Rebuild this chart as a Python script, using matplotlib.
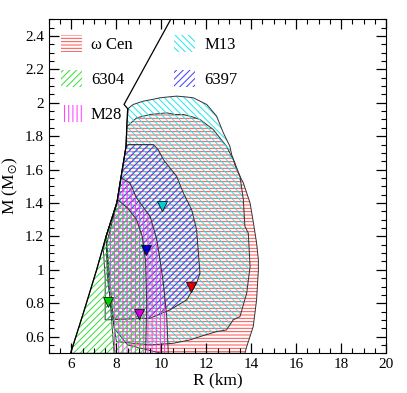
import numpy as np
import matplotlib
matplotlib.use("Agg")
import matplotlib.pyplot as plt
from matplotlib.patches import Polygon
from matplotlib.ticker import MultipleLocator, FormatStrFormatter

plt.rcParams['font.family'] = ['Liberation Serif', 'DejaVu Serif']
plt.rcParams['mathtext.fontset'] = 'stix'
plt.rcParams['hatch.linewidth'] = 0.7

# left envelope / causality line (R in km, M in Msun)
env_r = [10.42, 8.34, 8.50, 8.47, 8.43, 8.20, 8.02, 7.54, 7.12, 6.55, 5.96]
env_m = [2.50, 1.99, 1.965, 1.88, 1.74, 1.55, 1.40, 1.20, 1.00, 0.75, 0.50]

# omega Cen
wcen_r = [8.46, 8.9, 9.2, 9.5, 9.9, 10.24, 10.6, 10.98, 11.4, 11.72, 12.31, 12.9, 13.2,
          13.35, 13.65, 13.95, 14.1, 14.24, 14.32, 14.32, 14.24, 14.09, 13.8, 13.72,
          10.0, 8.5, 7.9, 7.54, 8.02, 8.20, 8.43]
wcen_m = [1.857, 1.91, 1.92, 1.93, 1.935, 1.94, 1.93, 1.93, 1.915, 1.90, 1.84, 1.74, 1.66,
          1.60, 1.52, 1.40, 1.28, 1.16, 1.06, 1.00, 0.82, 0.66, 0.54, 0.50,
          0.50, 0.55, 0.65, 1.20, 1.40, 1.55, 1.74]

# M13
m13_r = [8.53, 8.75, 9.2, 9.6, 9.94, 10.3, 10.68, 11.1, 11.42, 12.02, 12.46, 12.76, 13.05,
         13.13, 13.5, 13.65, 13.72, 13.87, 13.95, 13.8, 13.5, 13.2, 12.9, 12.46, 11.72,
         11.27, 10.53, 9.5, 8.0, 7.85, 7.6, 7.54, 8.02, 8.20, 8.43, 8.47]
m13_m = [1.967, 1.99, 2.01, 2.02, 2.03, 2.035, 2.04, 2.035, 2.03, 1.99, 1.92, 1.82, 1.74,
         1.69, 1.56, 1.42, 1.26, 1.22, 1.02, 0.86, 0.72, 0.70, 0.64, 0.63, 0.60,
         0.58, 0.56, 0.55, 0.57, 0.70, 0.95, 1.20, 1.40, 1.55, 1.74, 1.88]

# NGC 6397
n6397_r = [8.53, 9.64, 9.86, 10.09, 10.68, 10.98, 11.35, 11.57, 11.65, 11.72, 11.57, 11.13,
           10.38, 9.5, 7.5, 7.5, 7.42, 7.54, 8.02, 8.20, 8.43]
n6397_m = [1.75, 1.75, 1.72, 1.66, 1.56, 1.46, 1.36, 1.24, 1.10, 0.98, 0.92, 0.82,
           0.76, 0.71, 0.70, 0.95, 1.12, 1.20, 1.40, 1.55, 1.74]

# M28
m28_r = [8.2, 8.6, 8.9, 9.5, 9.8, 9.94, 10.09, 10.24, 10.31, 7.9, 7.7, 7.56, 8.02]
m28_m = [1.55, 1.52, 1.43, 1.32, 1.18, 1.06, 0.92, 0.72, 0.50, 0.50, 0.85, 1.15, 1.40]

# NGC 6304
n6304_r = [5.96, 6.55, 7.12, 7.54, 8.05, 8.5, 8.9, 9.15, 9.3, 9.35, 9.3]
n6304_m = [0.50, 0.75, 1.00, 1.20, 1.42, 1.37, 1.30, 1.20, 1.05, 0.80, 0.50]

# best-fit markers
mk_r = [11.32, 7.61, 9.0, 10.03, 9.32]
mk_m = [0.895, 0.805, 0.735, 1.385, 1.12]
mk_c = ['#e00000', '#00d000', '#d000d0', '#00d0d0', '#0000d0']

regions = [
    ('ω Cen', wcen_r, wcen_m, '#ff4d4d', '-----'),
    ('M13', m13_r, m13_m, '#22e6ec', '\\\\\\\\\\'),
    ('6397', n6397_r, n6397_m, '#3a3aff', '/////'),
    ('M28', m28_r, m28_m, '#ff33ff', '||||'),
    ('6304', n6304_r, n6304_m, '#33e033', '/////'),
]

fig = plt.figure(figsize=(4.07, 3.93), dpi=100)
ax = fig.add_axes([0.1204, 0.101, 0.828, 0.8499])

handles = {}
for name, r, m, col, hatch in regions:
    xy = np.column_stack([r, m])
    p = Polygon(xy, closed=True, facecolor='none', edgecolor=col, lw=0, hatch=hatch, label=name)
    ax.add_patch(p)
    ax.add_patch(Polygon(xy, closed=True, facecolor='none', edgecolor='#333333', lw=0.7))
    handles[name] = p

ax.plot(env_r, env_m, color='black', lw=0.9)

for r, m, c in zip(mk_r, mk_m, mk_c):
    ax.plot(r, m, marker='v', color=c, ms=6.5, mec='black', mew=0.5, ls='none')

ax.set_xlim(5, 20)
ax.set_ylim(0.5, 2.5)
ax.xaxis.set_minor_locator(MultipleLocator(0.5))
ax.yaxis.set_minor_locator(MultipleLocator(0.05))
ax.set_xticks(np.arange(6, 21, 2))
ax.set_yticks(np.arange(0.6, 2.41, 0.2))
ax.xaxis.set_major_formatter(FormatStrFormatter('%g'))
ax.yaxis.set_major_formatter(FormatStrFormatter('%g'))
ax.tick_params(which='both', direction='in', top=True, right=True, labelsize=11)
ax.tick_params(which='major', length=7, width=0.9)
ax.tick_params(which='minor', length=3.5, width=0.8)

ax.set_xlabel('R (km)', fontsize=12.5, labelpad=1)
ax.set_ylabel('M (M$_{\\odot}$)', fontsize=12.5, labelpad=4)

order = ['ω Cen', '6304', 'M28', 'M13', '6397']
ax.legend([handles[k] for k in order], order, ncol=2, loc='upper left',
          bbox_to_anchor=(0.035, 0.952), frameon=False, fontsize=12,
          handlelength=1.25, handleheight=1.2, handletextpad=0.55,
          labelspacing=1.0, columnspacing=2.5, borderpad=0, borderaxespad=0)

fig.savefig('out.png', dpi=100)
